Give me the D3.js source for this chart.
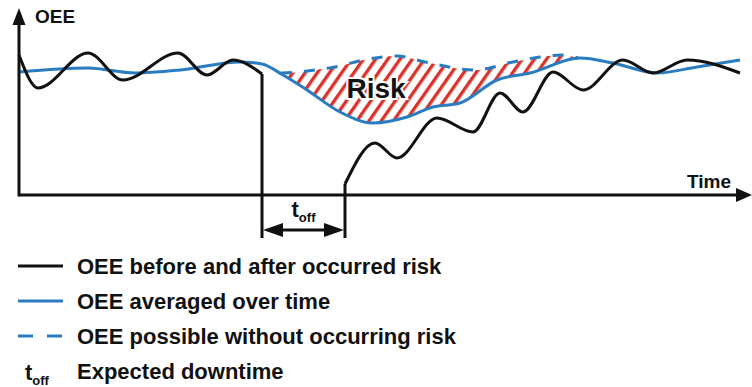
<!DOCTYPE html>
<html>
<head>
<meta charset="utf-8">
<script src="https://cdn.jsdelivr.net/npm/d3@7"></script>
<style>
  html, body { margin: 0; padding: 0; background: #fff; }
  #graph { width: 752px; height: 387px; }
  text { font-family: "Liberation Sans", Arial, sans-serif; font-weight: bold; fill: #111; }
</style>
</head>
<body>
<div id="graph"></div>
<script>
// time (arbitrary units) / OEE (arbitrary units)
var oeeBefore = [[0, 70], [19, 53.5], [69, 71], [104, 57.5], [159, 71], [188, 60], [214, 67.5], [243, 60.5]];
var oeeAfter = [[326, 5.5], [356, 26], [378, 18.5], [418, 38.5], [454, 31.5], [481, 51], [504, 41.5],
  [534, 61.5], [564, 52.5], [604, 67.5], [634, 61], [668, 67.5], [721, 61]];
var oeeAverage = [[0, 61.5], [69, 63.5], [116, 61], [161, 62.5], [221, 66.5], [243, 65.5], [264, 60],
  [288, 52.5], [321, 41.5], [354, 36], [388, 39], [414, 44], [441, 46], [478, 57.5], [511, 61],
  [561, 68.5], [594, 66], [638, 61], [678, 64], [721, 67.5]];
var oeePossible = [[262, 61], [281, 61.5], [296, 62.5], [316, 64], [349, 68], [378, 69.5], [406, 66.5],
  [456, 62.5], [494, 66.5], [521, 69], [543, 70], [559, 68.5]];
var downtime = [243, 326];
var legendLabels = ["OEE before and after occurred risk", "OEE averaged over time",
  "OEE possible without occurring risk", "Expected downtime"];

var width = 752, height = 387;
var blue = "#2a7cc1", red = "#d8342c";

var svg = d3.select("#graph").append("svg").attr("width", width).attr("height", height);
var defs = svg.append("defs");

var xScale = d3.scaleLinear().domain([0, 729]).range([19, 748]);
var yScale = d3.scaleLinear().domain([0, 90]).range([195, 15]);

var line = d3.line()
  .x(function(d) { return xScale(d[0]); })
  .y(function(d) { return yScale(d[1]); })
  .curve(d3.curveMonotoneX);

var areaDown = d3.area()
  .x(function(d) { return xScale(d[0]); })
  .y0(yScale(0))
  .y1(function(d) { return yScale(d[1]); })
  .curve(d3.curveMonotoneX);

main();

function main() {
  renderHatch();
  renderLines();
  renderAxis();
  renderDowntime();
  renderLegend();
}

function renderHatch() {
  var pattern = defs.append("pattern")
    .attr("id", "stripes")
    .attr("patternUnits", "userSpaceOnUse")
    .attr("width", 10).attr("height", 10)
    .attr("patternTransform", "rotate(35)");
  pattern.append("rect").attr("x", 0).attr("y", 0).attr("width", 3.4).attr("height", 10).attr("fill", red);

  var mask = defs.append("mask").attr("id", "riskMask").attr("maskUnits", "userSpaceOnUse")
    .attr("x", 0).attr("y", 0).attr("width", width).attr("height", height);
  mask.append("path").attr("d", areaDown(oeePossible)).attr("fill", "#fff");
  mask.append("path").attr("d", areaDown(oeeAverage)).attr("fill", "#000");

  svg.append("rect")
    .attr("x", 0).attr("y", 0).attr("width", width).attr("height", height)
    .attr("fill", "url(#stripes)")
    .attr("mask", "url(#riskMask)");
}

function renderLines() {
  var g = svg.append("g").attr("fill", "none").attr("stroke-width", 3);

  g.append("path").attr("d", line(oeePossible))
    .attr("stroke", blue).attr("stroke-dasharray", "11,12");

  g.append("path").attr("d", line(oeeAverage)).attr("stroke", blue);

  g.append("path").attr("d", line(oeeBefore)).attr("stroke", "#111");
  g.append("path").attr("d", line(oeeAfter)).attr("stroke", "#111");

  // drop at risk occurrence and restart after downtime
  var last = oeeBefore[oeeBefore.length - 1], first = oeeAfter[0];
  g.append("line")
    .attr("x1", xScale(downtime[0])).attr("x2", xScale(downtime[0]))
    .attr("y1", yScale(last[1])).attr("y2", 238)
    .attr("stroke", "#111");
  g.append("line")
    .attr("x1", xScale(downtime[1])).attr("x2", xScale(downtime[1]))
    .attr("y1", yScale(first[1])).attr("y2", 238)
    .attr("stroke", "#111");

  svg.append("text")
    .attr("x", 376).attr("y", 98)
    .attr("text-anchor", "middle")
    .attr("font-size", 28)
    .attr("stroke", "#fff").attr("stroke-width", 4)
    .attr("paint-order", "stroke")
    .text("Risk");
}

function renderAxis() {
  var x0 = xScale.range()[0], y0 = yScale(0);
  svg.append("line")
    .attr("x1", x0).attr("x2", 738).attr("y1", y0).attr("y2", y0)
    .attr("stroke", "#111").attr("stroke-width", 3);
  svg.append("line")
    .attr("x1", x0).attr("x2", x0).attr("y1", y0 + 1.5).attr("y2", 22)
    .attr("stroke", "#111").attr("stroke-width", 3);

  svg.append("path")
    .attr("d", "M" + [752, y0] + "L" + [736, y0 - 7] + "L" + [736, y0 + 7] + "Z")
    .attr("fill", "#111");
  svg.append("path")
    .attr("d", "M" + [x0, 8] + "L" + [x0 - 6.5, 25] + "L" + [x0 + 6.5, 25] + "Z")
    .attr("fill", "#111");

  svg.append("text").attr("x", 35).attr("y", 23).attr("font-size", 19).text("OEE");
  svg.append("text").attr("x", 687).attr("y", 188).attr("font-size", 19).text("Time");
}

function renderDowntime() {
  var xa = xScale(downtime[0]), xb = xScale(downtime[1]), ya = 230;
  svg.append("line")
    .attr("x1", xa + 10).attr("x2", xb - 10).attr("y1", ya).attr("y2", ya)
    .attr("stroke", "#111").attr("stroke-width", 3);
  svg.append("path")
    .attr("d", "M" + [xa + 1, ya] + "L" + [xa + 21, ya - 7] + "L" + [xa + 21, ya + 7] + "Z")
    .attr("fill", "#111");
  svg.append("path")
    .attr("d", "M" + [xb - 1, ya] + "L" + [xb - 21, ya - 7] + "L" + [xb - 21, ya + 7] + "Z")
    .attr("fill", "#111");

  tOff(svg, (xa + xb) / 2, 217, "middle");
}

function tOff(sel, x, y, anchor) {
  var t = sel.append("text").attr("x", x).attr("y", y).attr("text-anchor", anchor);
  t.append("tspan").attr("font-size", 22).text("t");
  t.append("tspan").attr("font-size", 13).attr("dy", 5).text("off");
  return t;
}

function renderLegend() {
  var rows = [274, 309, 344, 379];
  var lg = svg.append("g").attr("class", "legend");

  lg.append("line").attr("x1", 18).attr("x2", 63).attr("y1", rows[0] - 8).attr("y2", rows[0] - 8)
    .attr("stroke", "#111").attr("stroke-width", 3);
  lg.append("line").attr("x1", 18).attr("x2", 63).attr("y1", rows[1] - 8).attr("y2", rows[1] - 8)
    .attr("stroke", blue).attr("stroke-width", 3);
  lg.append("line").attr("x1", 18).attr("x2", 63).attr("y1", rows[2] - 8).attr("y2", rows[2] - 8)
    .attr("stroke", blue).attr("stroke-width", 3).attr("stroke-dasharray", "15,14");
  tOff(lg, 25, rows[3] + 1, "start");

  lg.selectAll(".label")
    .data(legendLabels)
    .enter()
    .append("text")
    .classed("label", true)
    .attr("x", 77)
    .attr("y", function(d, i) { return rows[i]; })
    .attr("font-size", 22)
    .text(function(d) { return d; });
}
</script>
</body>
</html>
